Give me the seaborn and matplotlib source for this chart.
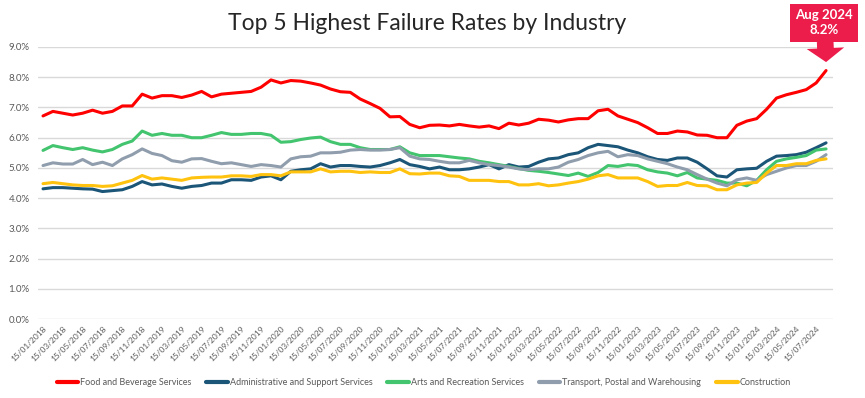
import numpy as np
import pandas as pd
import matplotlib
matplotlib.use("Agg")
import matplotlib.pyplot as plt
import seaborn as sns

# monthly readings, 15/01/2018 .. 15/08/2024 (failure rate, %)
months = (pd.date_range("2018-01-01", "2024-08-01", freq="MS") + pd.Timedelta(days=14)).strftime("%d/%m/%Y").tolist()

food_bev = [6.72, 6.87, 6.81, 6.75, 6.81, 6.91, 6.81, 6.87, 7.05, 7.05, 7.44, 7.31, 7.39, 7.39, 7.33, 7.41, 7.53, 7.35, 7.44, 7.47,
            7.50, 7.53, 7.67, 7.91, 7.81, 7.89, 7.87, 7.81, 7.74, 7.61, 7.52, 7.50, 7.28, 7.13, 6.97, 6.69, 6.70, 6.44, 6.33, 6.41,
            6.42, 6.39, 6.44, 6.39, 6.35, 6.39, 6.30, 6.48, 6.42, 6.48, 6.61, 6.58, 6.52, 6.59, 6.63, 6.63, 6.89, 6.94, 6.72, 6.61,
            6.50, 6.33, 6.14, 6.14, 6.22, 6.19, 6.09, 6.08, 6.00, 6.00, 6.41, 6.55, 6.63, 6.94, 7.31, 7.42, 7.50, 7.59, 7.81, 8.22]
admin = [4.31, 4.35, 4.35, 4.33, 4.31, 4.30, 4.22, 4.25, 4.28, 4.39, 4.55, 4.44, 4.47, 4.39, 4.33, 4.39, 4.42, 4.50, 4.50, 4.61,
         4.61, 4.59, 4.70, 4.74, 4.61, 4.89, 4.94, 4.97, 5.14, 5.03, 5.08, 5.08, 5.05, 5.03, 5.08, 5.17, 5.28, 5.11, 5.05, 4.97,
         5.03, 4.94, 4.94, 4.97, 5.03, 5.11, 4.97, 5.11, 5.03, 5.05, 5.19, 5.30, 5.33, 5.44, 5.50, 5.67, 5.78, 5.74, 5.70, 5.59,
         5.50, 5.37, 5.28, 5.25, 5.33, 5.33, 5.19, 4.97, 4.74, 4.70, 4.94, 4.97, 4.99, 5.22, 5.39, 5.41, 5.44, 5.52, 5.67, 5.83]
arts = [5.58, 5.74, 5.67, 5.61, 5.67, 5.59, 5.53, 5.61, 5.78, 5.89, 6.22, 6.08, 6.14, 6.08, 6.08, 6.00, 6.00, 6.08, 6.17, 6.11,
        6.11, 6.14, 6.14, 6.08, 5.85, 5.87, 5.94, 5.99, 6.02, 5.87, 5.78, 5.78, 5.67, 5.61, 5.61, 5.61, 5.70, 5.50, 5.41, 5.41,
        5.41, 5.37, 5.33, 5.30, 5.22, 5.17, 5.11, 5.05, 4.98, 4.92, 4.89, 4.85, 4.80, 4.75, 4.83, 4.72, 4.85, 5.08, 5.05, 5.11,
        5.08, 4.94, 4.87, 4.83, 4.74, 4.85, 4.67, 4.63, 4.59, 4.50, 4.50, 4.41, 4.59, 4.94, 5.22, 5.30, 5.35, 5.41, 5.59, 5.63]
transport = [5.08, 5.17, 5.13, 5.13, 5.28, 5.11, 5.19, 5.08, 5.30, 5.44, 5.63, 5.48, 5.41, 5.24, 5.19, 5.30, 5.31, 5.22, 5.14, 5.17,
             5.11, 5.05, 5.11, 5.08, 5.03, 5.30, 5.37, 5.39, 5.50, 5.50, 5.52, 5.59, 5.61, 5.59, 5.59, 5.61, 5.67, 5.39, 5.30, 5.28,
             5.22, 5.17, 5.17, 5.25, 5.17, 5.11, 5.08, 5.03, 4.97, 4.94, 4.97, 4.97, 5.03, 5.19, 5.28, 5.41, 5.50, 5.55, 5.37, 5.44,
             5.41, 5.30, 5.22, 5.14, 5.03, 4.94, 4.78, 4.63, 4.50, 4.41, 4.61, 4.67, 4.59, 4.78, 4.89, 5.00, 5.08, 5.08, 5.22, 5.44]
construction = [4.48, 4.52, 4.48, 4.44, 4.42, 4.42, 4.39, 4.41, 4.50, 4.59, 4.75, 4.63, 4.67, 4.63, 4.59, 4.67, 4.69, 4.70, 4.70, 4.74,
                4.74, 4.72, 4.78, 4.78, 4.74, 4.87, 4.87, 4.87, 4.97, 4.87, 4.89, 4.89, 4.85, 4.87, 4.85, 4.85, 4.97, 4.81, 4.80, 4.83,
                4.83, 4.74, 4.72, 4.59, 4.59, 4.59, 4.55, 4.55, 4.44, 4.44, 4.48, 4.41, 4.44, 4.50, 4.55, 4.63, 4.74, 4.78, 4.67, 4.67,
                4.67, 4.55, 4.39, 4.42, 4.42, 4.52, 4.42, 4.41, 4.28, 4.28, 4.44, 4.50, 4.52, 4.83, 5.08, 5.08, 5.14, 5.14, 5.25, 5.30]

industries = ["Food and Beverage Services", "Administrative and Support Services",
              "Arts and Recreation Services", "Transport, Postal and Warehousing", "Construction"]
colors = ["#FF0000", "#1B5577", "#43C46E", "#8F9DAD", "#FFC20E"]

series = dict(zip(industries, [food_bev, admin, arts, transport, construction]))
df = pd.concat(
    [pd.DataFrame({"month": np.arange(len(months)), "rate": vals, "industry": name}) for name, vals in series.items()],
    ignore_index=True,
)

sns.set_theme(style="white")
plt.rcParams["font.family"] = ["Lato", "DejaVu Sans"]

fig = plt.figure(figsize=(8.65, 3.98), dpi=100)
ax = fig.add_axes([0.044, 0.198, 0.919, 0.684])

sns.lineplot(data=df, x="month", y="rate", hue="industry", hue_order=industries,
             palette=colors, linewidth=2.2, ax=ax)

ax.set_xlim(-0.5, len(months) - 0.3)
ax.set_ylim(0, 9)
ax.set_yticks(np.arange(0, 10, 1))
ax.set_yticklabels([f"{v:.1f}%" for v in np.arange(0, 10, 1)], fontsize=7, color="#595959")
ax.yaxis.grid(True, color="#d9d9d9", linewidth=1)
ax.set_axisbelow(True)
ax.set_xticks(np.arange(0, len(months), 2))
ax.set_xticklabels(months[::2], rotation=45, ha="right", rotation_mode="anchor", fontsize=6, color="#595959")
ax.tick_params(axis="both", length=0)
ax.tick_params(axis="y", pad=6)
ax.tick_params(axis="x", pad=4)
ax.set_xlabel("")
ax.set_ylabel("")
sns.despine(ax=ax, left=True, bottom=True)

handles, labels = ax.get_legend_handles_labels()
for h in handles:
    h.set_linewidth(3)
ax.legend(handles, labels, loc="center", bbox_to_anchor=(0.485, -0.232), ncol=5, frameon=False,
          fontsize=6.5, handlelength=2.4, handletextpad=0.2, columnspacing=1.65, labelcolor="#595959")

fig.text(0.494, 0.942, "Top 5 Highest Failure Rates by Industry", ha="center", va="center",
         fontsize=16.5, color="#262626")

ax.annotate("Aug 2024\n8.2%", xy=(len(months) - 1, 8.5), xycoords="data",
            xytext=(0.953, 0.943), textcoords="figure fraction",
            ha="center", va="center", fontsize=9.5, fontweight="bold", color="white", linespacing=1.35,
            bbox=dict(boxstyle="square,pad=0.4", fc="#EC1C4B", ec="none"),
            arrowprops=dict(arrowstyle="simple,head_length=1.0,head_width=2.7,tail_width=1.2",
                            fc="#EC1C4B", ec="none", shrinkA=0, shrinkB=0, mutation_scale=10),
            annotation_clip=False)

fig.savefig("out.png", dpi=100, facecolor="white")
